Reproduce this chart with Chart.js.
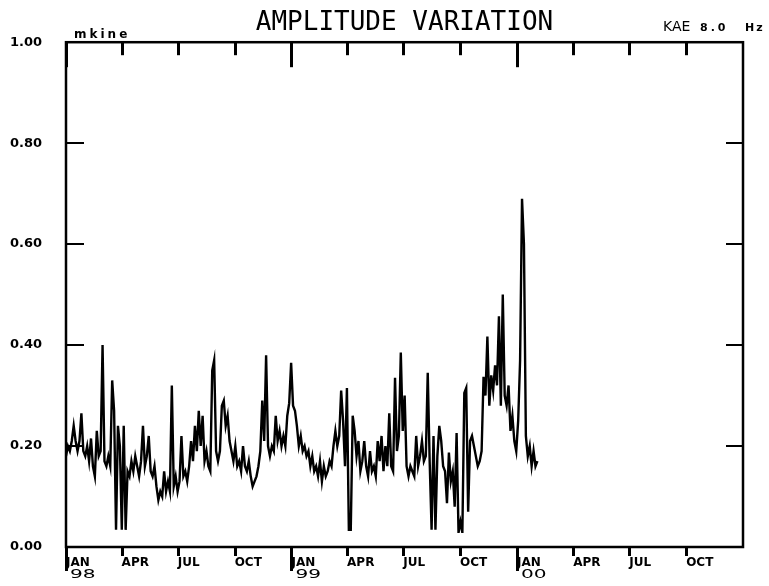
<!DOCTYPE html>
<html>
<head>
<meta charset="utf-8">
<title>Amplitude Variation</title>
<script src="https://cdn.jsdelivr.net/npm/chart.js@4.4.1/dist/chart.umd.min.js"></script>
<style>
  html, body { margin: 0; padding: 0; background: #fff; }
  #wrap { position: relative; width: 769px; height: 586px; }
</style>
</head>
<body>
<div id="wrap"><canvas id="ampChart"></canvas></div>
<script>
// Quarter ticks, in days counted from 1 Jan 1998
const tickDays = [0, 90, 181, 273, 365, 455, 546, 638, 730, 821, 912, 1004];
const tickMonths = ['JAN', 'APR', 'JUL', 'OCT', 'JAN', 'APR', 'JUL', 'OCT', 'JAN', 'APR', 'JUL', 'OCT'];
const yearDays = [0, 365, 730];
const yearLabels = ['98', '99', '00'];
const endDay = 1096;

const titleText = 'AMPLITUDE VARIATION';
const unitLabel = 'mkine';
const stationLabel = 'KAE';
const freqLabel = '8.0';
const freqUnit = 'Hz';

// Amplitude samples, one every stepDays from 1 Jan 1998
const stepDays = 3.115;
const amplitude = [
  0.18, 0.20, 0.19, 0.21, 0.24, 0.21, 0.19, 0.21, 0.265, 0.19,
  0.18, 0.20, 0.17, 0.215, 0.16, 0.14, 0.23, 0.18, 0.19, 0.40,
  0.17, 0.16, 0.18, 0.16, 0.33, 0.27, 0.034, 0.24, 0.20, 0.034,
  0.24, 0.034, 0.15, 0.14, 0.17, 0.15, 0.18, 0.16, 0.14, 0.17,
  0.24, 0.16, 0.18, 0.22, 0.15, 0.14, 0.16, 0.12, 0.093, 0.11,
  0.10, 0.15, 0.11, 0.13, 0.11, 0.32, 0.12, 0.14, 0.11, 0.13,
  0.22, 0.14, 0.15, 0.13, 0.16, 0.21, 0.17, 0.24, 0.19, 0.27,
  0.20, 0.26, 0.17, 0.19, 0.16, 0.15, 0.35, 0.37, 0.19, 0.17,
  0.19, 0.28, 0.29, 0.24, 0.26, 0.21, 0.19, 0.17, 0.20, 0.16,
  0.17, 0.15, 0.20, 0.16, 0.15, 0.17, 0.14, 0.12, 0.13, 0.14,
  0.16, 0.19, 0.29, 0.21, 0.38, 0.20, 0.18, 0.20, 0.19, 0.26,
  0.21, 0.23, 0.20, 0.22, 0.20, 0.26, 0.285, 0.365, 0.28, 0.27,
  0.24, 0.20, 0.22, 0.19, 0.20, 0.18, 0.19, 0.16, 0.18, 0.15,
  0.16, 0.14, 0.17, 0.13, 0.16, 0.14, 0.15, 0.17, 0.16, 0.20,
  0.23, 0.20, 0.22, 0.31, 0.25, 0.16, 0.315, 0.034, 0.034, 0.26,
  0.23, 0.18, 0.21, 0.15, 0.17, 0.21, 0.16, 0.14, 0.19, 0.15,
  0.16, 0.14, 0.21, 0.17, 0.22, 0.15, 0.20, 0.16, 0.265, 0.16,
  0.15, 0.335, 0.19, 0.22, 0.385, 0.23, 0.30, 0.16, 0.14, 0.16,
  0.15, 0.14, 0.22, 0.16, 0.18, 0.21, 0.17, 0.18, 0.345, 0.17,
  0.034, 0.22, 0.034, 0.18, 0.24, 0.21, 0.16, 0.15, 0.087, 0.187,
  0.13, 0.15, 0.08, 0.226, 0.028, 0.05, 0.028, 0.305, 0.315, 0.07,
  0.21, 0.22, 0.20, 0.18, 0.16, 0.17, 0.19, 0.337, 0.30, 0.417,
  0.28, 0.34, 0.31, 0.36, 0.32, 0.457, 0.28, 0.50, 0.30, 0.28,
  0.32, 0.23, 0.26, 0.21, 0.19, 0.25, 0.37, 0.69, 0.60, 0.22,
  0.18, 0.20, 0.16, 0.19, 0.16, 0.17
];

const points = amplitude.map((v, i) => ({ x: i * stepDays, y: v }));

// frame, tick marks, year row and corner texts
const plotterFrame = {
  id: 'plotterFrame',
  afterDraw(chart) {
    const { ctx, chartArea: a, scales: { x, y } } = chart;
    ctx.save();
    ctx.strokeStyle = '#000';
    ctx.fillStyle = '#000';

    ctx.lineWidth = 2.5;
    ctx.strokeRect(a.left, a.top, a.right - a.left, a.bottom - a.top);

    // quarter marks: down from the top edge, and below the bottom edge
    for (let i = 0; i < tickDays.length; i++) {
      const px = Math.round(x.getPixelForValue(tickDays[i]));
      const jan = tickMonths[i] === 'JAN';
      ctx.fillRect(px - 1, a.top, 3, jan ? 25 : 13);
      ctx.fillRect(px - 1, a.bottom, 3, jan ? 24 : 9);
    }
    // value marks on both sides, pointing inwards
    y.ticks.forEach(t => {
      if (t.value <= 0 || t.value >= 1) return;
      const py = Math.round(y.getPixelForValue(t.value));
      ctx.fillRect(a.left, py - 1, 18, 2);
      ctx.fillRect(a.right - 17, py - 1, 17, 2);
    });

    // year row under the JAN labels
    ctx.font = '13px "DejaVu Sans"';
    ctx.textBaseline = 'alphabetic';
    yearDays.forEach((d, i) => {
      const px = x.getPixelForValue(d);
      ctx.save();
      ctx.translate(px + 4, 578);
      ctx.scale(1.55, 1);
      ctx.fillText(yearLabels[i], 0, 0);
      ctx.restore();
    });

    // corner labels
    ctx.font = 'bold 12px "DejaVu Sans"';
    ctx.letterSpacing = '3px';
    ctx.fillText(unitLabel, 74, 38);

    ctx.font = '14px "DejaVu Sans"';
    ctx.letterSpacing = '0px';
    ctx.fillText(stationLabel, 663, 31);

    ctx.font = 'bold 11px "DejaVu Sans"';
    ctx.letterSpacing = '3px';
    ctx.fillText(freqLabel, 700, 31);
    ctx.letterSpacing = '2px';
    ctx.fillText(freqUnit, 745, 31);
    ctx.restore();
  }
};

new Chart(document.getElementById('ampChart'), {
  type: 'line',
  data: {
    datasets: [{
      data: points,
      borderColor: '#000',
      borderWidth: 2.4,
      pointRadius: 0,
      tension: 0,
      fill: false
    }]
  },
  options: {
    responsive: true,
    maintainAspectRatio: false,
    animation: false,
    layout: { padding: { left: 10, right: 26, top: 0, bottom: 0 } },
    plugins: {
      legend: { display: false },
      tooltip: { enabled: false },
      title: {
        display: true,
        text: titleText,
        fullSize: false,
        color: '#000',
        font: { family: '"DejaVu Sans Mono"', size: 26, weight: 'normal', lineHeight: 1.2 },
        padding: { top: 8, bottom: 3 }
      }
    },
    scales: {
      x: {
        type: 'linear',
        min: 0,
        max: endDay,
        grid: { display: false, drawTicks: false },
        border: { display: false },
        afterBuildTicks: s => { s.ticks = tickDays.map(v => ({ value: v })); },
        afterFit: s => { s.height = 39; },
        ticks: {
          autoSkip: false,
          maxRotation: 0,
          minRotation: 0,
          align: 'start',
          padding: 9,
          color: '#000',
          font: { family: '"DejaVu Sans"', weight: 'bold', size: 12 },
          callback: (v, i) => tickMonths[i]
        }
      },
      y: {
        min: 0,
        max: 1,
        grid: { display: false, drawTicks: false },
        border: { display: false },
        afterFit: s => { s.width = 56; },
        ticks: {
          stepSize: 0.2,
          crossAlign: 'far',
          padding: 0,
          color: '#000',
          font: { family: '"DejaVu Sans"', weight: 'bold', size: 13 },
          callback: v => v.toFixed(2)
        }
      }
    }
  },
  plugins: [plotterFrame]
});
</script>
</body>
</html>
